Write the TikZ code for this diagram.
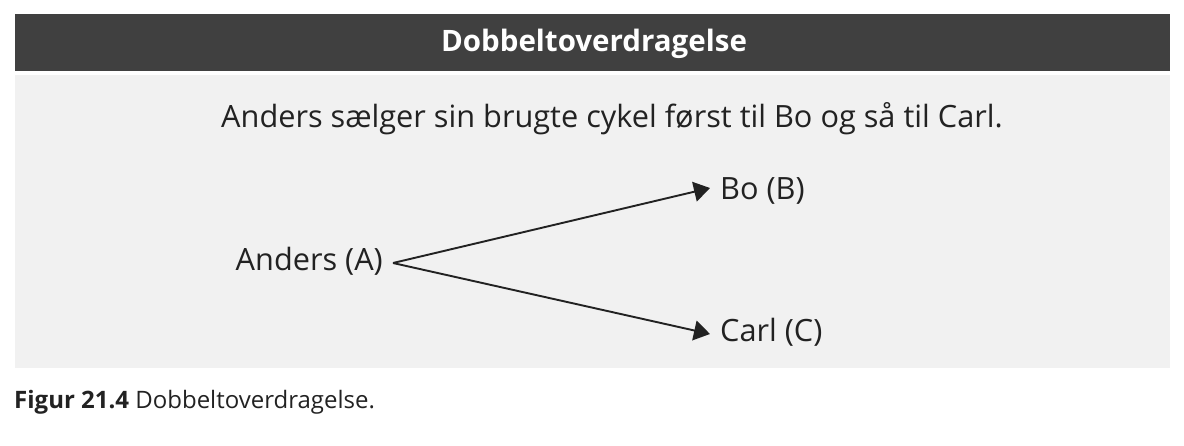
\documentclass[tikz,border=0pt]{standalone}
\usepackage{fontspec}
\setmainfont{Open Sans}
\usetikzlibrary{arrows.meta}
\definecolor{hdr}{HTML}{404040}
\definecolor{pnl}{HTML}{F1F1F1}
\definecolor{txt}{HTML}{222222}
\begin{document}
\begin{tikzpicture}[x=1pt,y=-1pt,
  lbl/.style={inner sep=0pt,text=txt,font=\fontsize{30.7}{36}\selectfont},
  conn/.style={draw=txt,line width=1.9pt,-{Triangle[length=16pt,width=20pt]}}]
\useasboundingbox (0,0) rectangle (1184,445);
\fill[hdr] (15,14) rectangle (1170,71);
\fill[pnl] (15,75) rectangle (1170,368);
\node[inner sep=0pt,text=white,font=\bfseries\fontsize{29.5}{34}\selectfont] (title) at (594,44) {Dobbeltoverdragelse};
\node[lbl,anchor=base] (sent) at (612,127) {Anders sælger sin brugte cykel først til Bo og så til Carl.};
\node[lbl,anchor=base east] (a) at (383,270) {Anders (A)};
\node[lbl,anchor=base west] (b) at (720,199) {Bo (B)};
\node[lbl,anchor=base west] (c) at (720,341) {Carl (C)};
\coordinate (a1) at (393,263);
\coordinate (bt) at (710,188);
\coordinate (ct) at (710,334);
\draw[conn] (a1) -- (bt);
\draw[conn] (a1) -- (ct);
\node[inner sep=0pt,text=txt,anchor=base west,font=\fontsize{24}{28}\selectfont] (cap) at (14,408) {\textbf{Figur 21.4} Dobbeltoverdragelse.};
\end{tikzpicture}
\end{document}
